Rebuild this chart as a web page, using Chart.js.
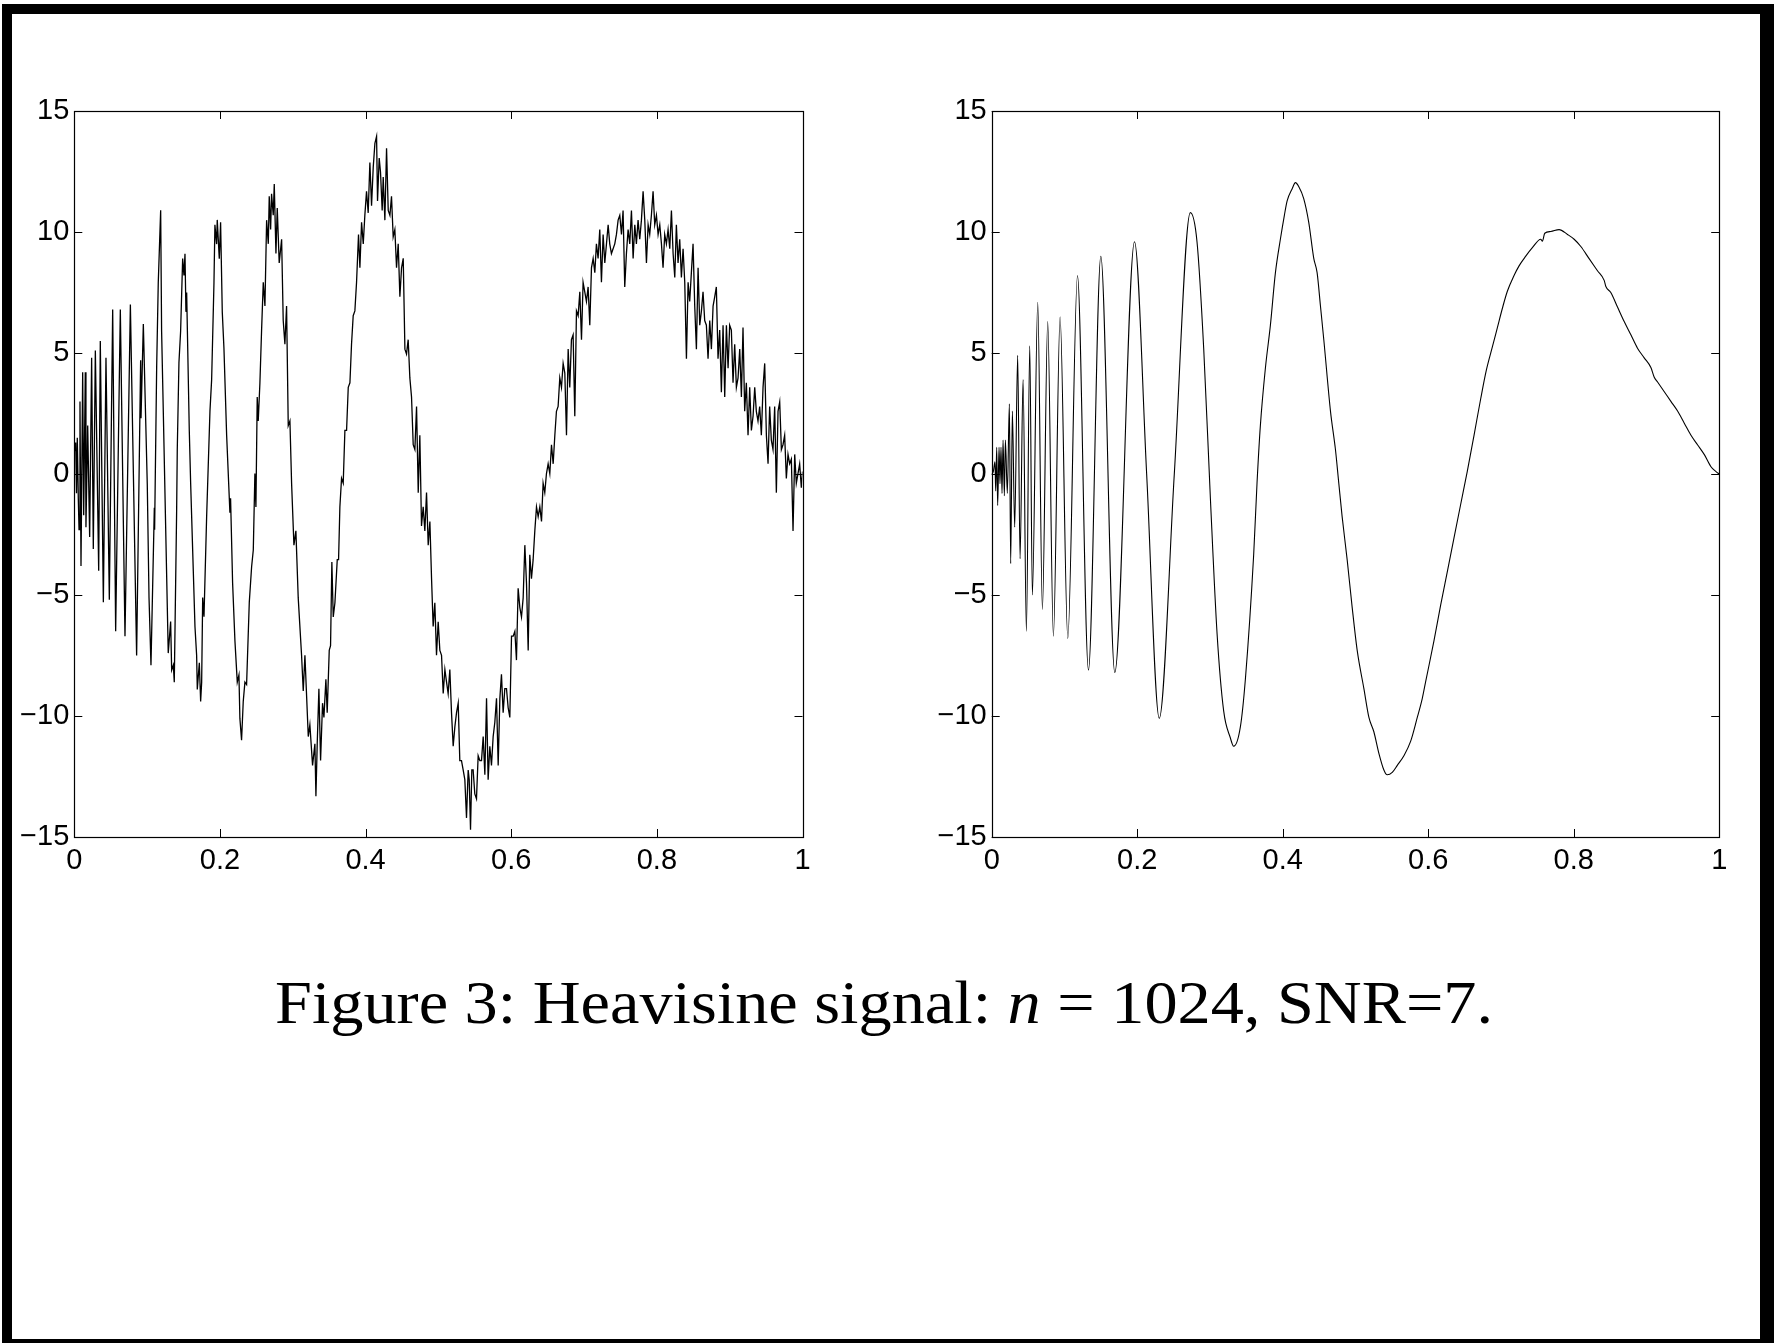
<!DOCTYPE html>
<html>
<head>
<meta charset="utf-8">
<script src="https://cdn.jsdelivr.net/npm/chart.js@4.4.0/dist/chart.umd.min.js"></script>
<style>
  html, body { margin:0; padding:0; background:#fff; width:1774px; height:1343px; overflow:hidden; }
  #frame { position:absolute; left:2px; top:4px; width:1748px; height:1325px;
           border-left:10px solid #000; border-top:10px solid #000; border-right:14px solid #000; border-bottom:10px solid #000; }
  canvas { position:absolute; top:0; }
  #c1 { left:0px; }
  #c2 { left:900px; }
  #caption { position:absolute; left:884px; top:972px; font-family:"Liberation Serif","Times New Roman",serif;
             font-size:61px; line-height:61px; white-space:nowrap; color:#000; transform-origin:50% 50%; }
</style>
</head>
<body>
<div id="frame"></div>
<canvas id="c1" width="840" height="900"></canvas>
<canvas id="c2" width="860" height="900"></canvas>
<div id="caption">Figure 3: Heavisine signal: <i>n</i> = 1024, SNR=7.</div>
<script>
// ---------- tick values ----------
const xTicks = [0, 0.2, 0.4, 0.6, 0.8, 1];
const yTicks = [-15, -10, -5, 0, 5, 10, 15];

const noisyX_a = [0.0000,0.0019,0.0030,0.0041,0.0055,0.0065,0.0078,0.0092,0.0115,0.0129,
  0.0151,0.0160,0.0184,0.0211,0.0238,0.0261,0.0289,0.0335,0.0357,0.0399,
  0.0435,0.0481,0.0527,0.0568,0.0632,0.0696,0.0770,0.0856,0.0911,0.0916,
  0.0948,0.1002,0.1026,0.1053,0.1099,0.1103,0.1131,0.1153,0.1186,0.1199,
  0.1222,0.1290,0.1323,0.1337,0.1360,0.1373,0.1405,0.1414,0.1437,0.1460,
  0.1488,0.1506,0.1520,0.1533,0.1543,0.1579,0.1598,0.1634,0.1657,0.1680,
  0.1689,0.1717,0.1735,0.1749,0.1763,0.1781,0.1817,0.1863,0.1886,0.1918,
  0.1931,0.1954,0.1963,0.1991,0.2009,0.2032,0.2055,0.2092,0.2137,0.2146,
  0.2174,0.2206,0.2238,0.2261,0.2274,0.2297,0.2320,0.2343,0.2366,0.2403];
const noisyY_a = [0.9,1.3,-0.8,1.5,-1.0,-2.3,3.0,-3.8,4.2,-1.7,
  4.2,-2.2,2.0,-2.6,4.8,-3.1,5.1,-4.0,5.5,-5.3,
  4.8,-5.2,6.8,-6.5,6.8,-6.7,7.0,-7.5,4.7,2.3,
  6.2,-0.4,-5.1,-7.9,-1.4,-2.3,4.4,7.9,10.9,5.9,
  2.6,-7.4,-6.1,-8.1,-7.9,-8.6,-1.6,1.0,4.6,5.9,
  8.9,8.2,9.1,6.7,7.5,1.8,-0.4,-4.0,-6.3,-7.5,
  -8.9,-7.8,-9.4,-8.6,-5.1,-5.9,-1.8,2.6,3.9,7.9,
  10.3,9.5,10.5,8.9,10.4,6.7,5.2,1.6,-1.6,-1.0,
  -4.5,-6.9,-8.6,-8.3,-10.1,-11.0,-9.4,-8.6,-8.7,-5.3];

const noisyX_b = [0.2435,0.2458,0.2480,0.2494,0.2512,0.2526,0.2549,0.2572,0.2595,0.2618,
  0.2641,0.2664,0.2677,0.2696,0.2709,0.2732,0.2746,0.2769,0.2787,0.2814,
  0.2847,0.2869,0.2892,0.2915,0.2938,0.2961,0.2984,0.3016,0.3043,0.3075,
  0.3121,0.3144,0.3167,0.3213,0.3235,0.3272,0.3304,0.3318,0.3336,0.3359,
  0.3382,0.3409,0.3428,0.3455,0.3473,0.3501,0.3519,0.3537,0.3556,0.3579,
  0.3611,0.3629,0.3647,0.3670,0.3693,0.3716,0.3739,0.3762,0.3785,0.3807,
  0.3830,0.3853,0.3876,0.3903,0.3922,0.3945,0.3968,0.3990,0.4013,0.4036,
  0.4059,0.4082,0.4105,0.4128,0.4151,0.4164,0.4187,0.4205,0.4228,0.4242,
  0.4265,0.4288,0.4311,0.4334,0.4356,0.4379,0.4402,0.4425,0.4448,0.4471,
  0.4494,0.4517,0.4540,0.4562,0.4585,0.4608,0.4631,0.4654,0.4677,0.4700,
  0.4723,0.4745,0.4768,0.4791,0.4814,0.4837,0.4860,0.4883,0.4906,0.4928,
  0.4951,0.4974,0.4997];
const noisyY_b = [-3.83,-3.14,0.02,-1.36,3.18,2.19,3.77,5.95,7.92,6.94,
  10.49,9.51,11.48,10.10,11.58,10.69,11.98,9.11,10.99,8.72,
  9.70,6.34,5.36,6.94,2.00,2.19,-0.38,-2.94,-2.35,-5.12,
  -7.49,-8.97,-7.49,-10.85,-10.36,-12.04,-11.15,-13.32,-11.15,-8.87,
  -11.84,-9.47,-10.06,-8.48,-9.86,-7.29,-7.09,-3.64,-5.91,-5.32,
  -3.54,-3.54,-1.36,-0.18,-0.38,1.80,1.80,3.58,3.77,5.36,
  6.54,6.74,7.92,9.90,8.52,10.40,9.51,10.69,11.68,10.79,
  12.87,11.09,12.67,13.66,13.95,11.28,13.06,12.47,10.89,12.27,
  10.49,13.46,10.89,10.69,11.48,9.80,10.10,8.52,9.51,7.33,
  8.52,8.91,5.16,4.96,5.55,3.97,3.18,1.21,1.01,2.79,
  -0.77,1.60,-2.15,-1.36,-2.35,-0.77,-2.94,-1.96,-4.33,-6.30,
  -5.32,-7.49,-6.11];

const noisyX_c = [0.5020,0.5043,0.5066,0.5089,0.5111,0.5134,0.5157,0.5180,0.5203,0.5226,
  0.5249,0.5272,0.5294,0.5317,0.5340,0.5363,0.5386,0.5409,0.5423,0.5441,0.5459,
  0.5477,0.5500,0.5523,0.5546,0.5569,0.5592,0.5615,0.5638,0.5661,0.5683,
  0.5706,0.5729,0.5752,0.5775,0.5798,0.5821,0.5844,0.5866,0.5889,0.5912,
  0.5935,0.5958,0.5981,0.6004,0.6027,0.6050,0.6072,0.6095,0.6118,0.6141,
  0.6164,0.6187,0.6210,0.6233,0.6255,0.6278,0.6301,0.6324,0.6347,0.6370,
  0.6393,0.6416,0.6438,0.6461,0.6484,0.6507,0.6530,0.6553,0.6576,0.6599,
  0.6621,0.6644,0.6667,0.6690,0.6713,0.6736,0.6759,0.6782,0.6804,0.6827,
  0.6850,0.6873,0.6896,0.6919,0.6942,0.6965,0.6987,0.7010,0.7033,0.7056,
  0.7079,0.7102,0.7125,0.7148,0.7170,0.7193,0.7216,0.7239,0.7262,0.7285,
  0.7308,0.7331,0.7353,0.7376,0.7399,0.7422,0.7445,0.7468];
const noisyY_c = [-7.29,-7.49,-9.07,-8.08,-8.58,-9.07,-8.08,-9.86,-11.25,-10.45,
  -9.86,-9.47,-11.84,-11.84,-12.23,-12.63,-14.21,-12.23,-12.63,-14.70,-12.23,
  -12.23,-13.22,-13.42,-11.64,-11.84,-11.84,-10.85,-12.43,-9.27,-12.63,
  -11.25,-12.04,-10.85,-10.26,-9.27,-12.04,-9.27,-8.28,-9.86,-8.87,
  -8.87,-9.66,-10.06,-6.70,-6.70,-6.50,-7.69,-4.72,-5.51,-5.91,
  -5.12,-2.94,-4.53,-7.29,-3.34,-4.33,-3.54,-2.35,-1.36,-1.76,
  -1.36,-1.96,-0.38,-0.77,0.02,0.42,0.02,1.21,0.42,1.60,
  2.59,2.79,3.97,3.58,4.57,4.17,1.60,5.16,3.58,5.55,
  5.75,2.39,6.74,6.54,7.53,5.55,7.92,7.53,7.13,7.73,
  6.15,8.52,8.91,8.32,9.51,8.91,10.10,7.92,9.90,8.72,
  9.51,10.30,9.51,9.11,9.31,9.51,9.90,10.49];

const noisyX_d = [0.7491,0.7514,0.7536,0.7559,0.7582,0.7605,0.7628,0.7651,0.7674,0.7697,
  0.7719,0.7742,0.7765,0.7788,0.7811,0.7834,0.7857,0.7880,0.7902,0.7925,
  0.7948,0.7971,0.7994,0.8017,0.8040,0.8063,0.8085,0.8108,0.8131,0.8154,
  0.8177,0.8200,0.8223,0.8246,0.8268,0.8291,0.8314,0.8337,0.8360,0.8383,
  0.8406,0.8429,0.8451,0.8474,0.8497,0.8520,0.8543,0.8566,0.8589,0.8612,
  0.8634,0.8657,0.8680,0.8703,0.8726,0.8749,0.8772,0.8795,0.8817,0.8840,
  0.8863,0.8886,0.8909,0.8932,0.8955,0.8978,0.9000,0.9023,0.9046,0.9069,
  0.9092,0.9115,0.9138,0.9161,0.9183,0.9206,0.9229,0.9252,0.9275,0.9298,
  0.9321,0.9344,0.9366,0.9389,0.9412,0.9435,0.9458,0.9481,0.9504,0.9527,
  0.9549,0.9572,0.9595,0.9618,0.9641,0.9664,0.9687,0.9710,0.9732,0.9755,
  0.9778,0.9801,0.9824,0.9847,0.9870,0.9893,0.9915,0.9938,0.9961,0.9984,1.0000];
const noisyY_d = [10.69,9.90,10.89,7.73,9.11,10.10,9.51,10.89,8.91,10.30,
  9.51,10.49,9.70,10.49,11.68,10.49,8.72,10.30,9.90,10.69,
  11.68,10.30,10.69,9.90,10.30,9.51,8.52,9.90,9.51,10.10,
  9.31,10.89,9.11,8.12,10.30,8.72,9.70,8.12,9.31,7.92,
  4.76,7.92,7.13,8.32,9.51,6.94,5.16,8.52,6.15,6.74,
  7.53,6.34,6.15,4.76,6.34,5.16,6.94,7.33,7.73,4.76,
  5.95,3.38,6.15,3.18,6.15,4.37,6.15,5.95,3.77,5.36,
  3.58,3.97,5.16,3.18,6.05,2.59,3.77,1.60,3.58,1.80,
  2.39,3.58,2.59,2.19,2.79,1.60,3.58,4.57,1.60,0.42,
  2.79,1.40,1.01,2.79,-0.77,2.59,2.98,1.01,1.21,1.60,
  -0.18,0.81,0.42,0.61,-2.35,0.81,-0.38,0.02,0.42,-0.57,0.10];

// ---------- right panel: denoised estimate ----------
const smoothX = [0.0000,0.0022,0.0045,0.0055,0.0069,0.0082,0.0101,0.0114,0.0128,0.0142,
  0.0156,0.0174,0.0188,0.0215,0.0243,0.0261,0.0284,0.0316,0.0357,0.0390,
  0.0431,0.0477,0.0523,0.0559,0.0633,0.0697,0.0770,0.0848,0.0940,0.1046,
  0.1179,0.1330,0.1500,0.1692,0.1963,0.2130,0.2303,0.2510,0.2730,
  0.2822,0.2914,0.3006,0.3098,0.3189,0.3280,0.3326,
  0.3418,0.3487,0.3601,0.3647,0.3693,0.3762,0.3831,0.3900,0.3968,0.4023,
  0.4060,0.4129,0.4175,0.4220,0.4289,0.4358,0.4427,0.4473,0.4519,0.4565,
  0.4657,0.4725,0.4771,0.4817,0.4886,0.4955,0.5024,0.5116,0.5185,0.5253,
  0.5322,0.5391,0.5437,0.5506,0.5575,0.5666,0.5758,0.5850,0.5919,0.5965,
  0.6079,0.6171,0.6263,0.6354,0.6446,0.6538,0.6630,0.6721,0.6800,0.6882,0.6951,
  0.7020,0.7088,0.7180,0.7249,0.7341,0.7432,0.7547,0.7570,0.7602,0.7685,
  0.7799,0.7914,0.8006,0.8098,0.8212,0.8327,0.8419,0.8442,0.8510,0.8602,
  0.8694,0.8786,0.8877,0.8969,0.9061,0.9107,0.9153,0.9245,0.9336,0.9428,
  0.9520,0.9612,0.9704,0.9796,0.9887,0.9956,1.0000];
const smoothY = [0.0,0.1,0.5,-0.7,1.1,-1.3,1.1,-0.4,1.1,-0.8,
  1.4,-0.9,1.4,-0.8,2.9,-3.7,2.6,-2.2,4.9,-3.5,
  3.9,-6.5,5.3,-5.0,7.1,-5.6,6.3,-6.7,6.5,-6.8,
  8.2,-8.1,9.0,-8.2,9.6,0.0,-10.1,0.0,10.8,
  9.6,5.2,-1.0,-6.6,-9.8,-10.9,-11.25,
  -10.45,-8.48,-3.34,-0.38,2.00,4.37,6.15,8.32,9.70,10.69,
  11.28,11.78,12.04,11.88,11.38,10.40,8.91,8.32,6.94,5.55,
  2.59,1.01,-0.38,-1.76,-3.54,-5.51,-7.29,-8.87,-10.06,-10.65,
  -11.54,-12.23,-12.43,-12.33,-12.04,-11.64,-11.05,-10.06,-9.27,-8.58,
  -6.90,-5.42,-4.03,-2.65,-1.26,0.12,1.60,3.10,4.30,5.25,6.05,
  6.85,7.55,8.20,8.60,9.00,9.35,9.70,9.62,9.95,10.02,
  10.10,9.90,9.70,9.40,8.90,8.40,8.00,7.75,7.50,6.90,
  6.30,5.75,5.20,4.80,4.40,4.00,3.80,3.40,3.00,2.60,
  2.10,1.60,1.20,0.80,0.30,0.10,0.00];

const noisyX = [].concat(noisyX_a, noisyX_b, noisyX_c, noisyX_d);
const noisyY = [].concat(noisyY_a, noisyY_b, noisyY_c, noisyY_d);

function pairs(xs, ys) {
  const n = Math.min(xs.length, ys.length);
  const out = [];
  for (let i = 0; i < n; i++) out.push({ x: xs[i], y: ys[i] });
  return out;
}

const TICK_FONT = { family: '"Liberation Sans",Arial,Helvetica,sans-serif', size: 29 };
const fmt = v => (v < 0 ? '\u2212' + Math.abs(v) : String(v));

const boxTicks = {
  id: 'boxTicks',
  afterDatasetsDraw(chart) {
    const { ctx, chartArea: a, scales: { x, y } } = chart;
    const L = 8;
    ctx.save();
    ctx.strokeStyle = '#000';
    ctx.lineWidth = 1;
    ctx.beginPath();
    xTicks.forEach(v => {
      const px = Math.round(x.getPixelForValue(v)) + 0.5;
      ctx.moveTo(px, a.bottom); ctx.lineTo(px, a.bottom - L);
      ctx.moveTo(px, a.top); ctx.lineTo(px, a.top + L);
    });
    yTicks.forEach(v => {
      const py = Math.round(y.getPixelForValue(v)) + 0.5;
      ctx.moveTo(a.left, py); ctx.lineTo(a.left + L, py);
      ctx.moveTo(a.right, py); ctx.lineTo(a.right - L, py);
    });
    ctx.stroke();
    ctx.lineWidth = 1.2;
    ctx.strokeRect(Math.round(a.left) + 0.5, Math.round(a.top) + 0.5,
                   Math.round(a.right) - Math.round(a.left), Math.round(a.bottom) - Math.round(a.top));
    ctx.restore();
  }
};

function makeChart(id, data, yAxisWidth, padRight, lineOpts) {
  return new Chart(document.getElementById(id), {
    type: 'line',
    data: { datasets: [Object.assign({
      data: data, borderColor: '#000', pointRadius: 0, fill: false
    }, lineOpts)] },
    options: {
      responsive: false, animation: false, devicePixelRatio: 1,
      layout: { padding: { top: 111, right: padRight, left: 0, bottom: 0 } },
      plugins: { legend: { display: false }, tooltip: { enabled: false } },
      scales: {
        x: {
          type: 'linear', min: 0, max: 1,
          afterBuildTicks: s => { s.ticks = xTicks.map(v => ({ value: v })); },
          afterFit: s => { s.height = 900 - 837; },
          grid: { display: false, drawTicks: false },
          border: { display: false },
          ticks: { color: '#000', font: TICK_FONT, padding: 7, maxRotation: 0, autoSkip: false, callback: v => fmt(v) }
        },
        y: {
          type: 'linear', min: -15, max: 15,
          afterBuildTicks: s => { s.ticks = yTicks.map(v => ({ value: v })); },
          afterFit: s => { s.width = yAxisWidth; },
          grid: { display: false, drawTicks: false },
          border: { display: false },
          ticks: { color: '#000', font: TICK_FONT, padding: 5, autoSkip: false, callback: v => fmt(v) }
        }
      }
    },
    plugins: [boxTicks]
  });
}

makeChart('c1', pairs(noisyX, noisyY), 74.3, 840 - 802.5, { borderWidth: 1.3, tension: 0 });
makeChart('c2', pairs(smoothX, smoothY), 91.7, 860 - 819.2, { borderWidth: 1.1, tension: 0.4, cubicInterpolationMode: 'monotone' });

// fit caption width to the reference span
const cap = document.getElementById('caption');
const w = cap.getBoundingClientRect().width;
const k = 1218 / w;
cap.style.transform = 'translateX(-50%) scaleX(' + k.toFixed(4) + ')';
</script>
</body>
</html>
